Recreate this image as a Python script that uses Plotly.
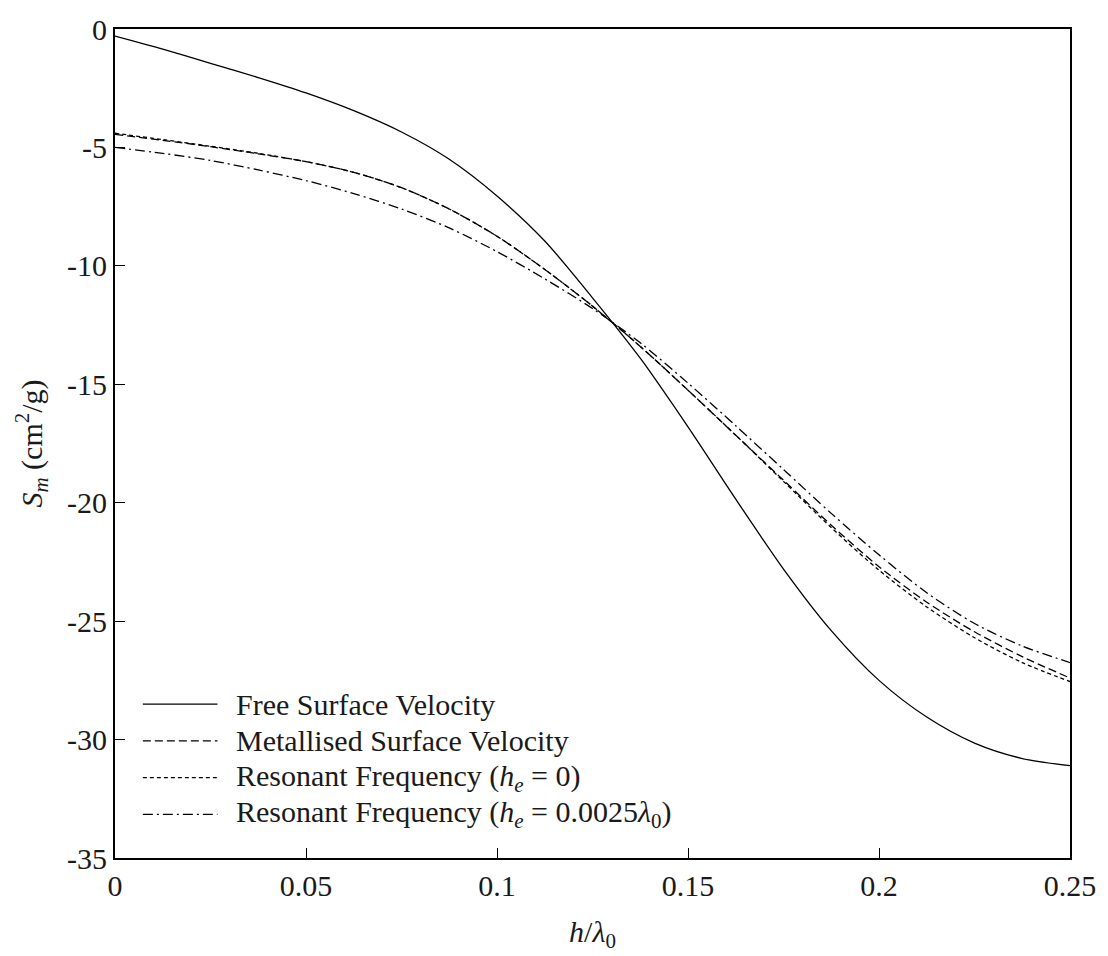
import plotly.graph_objects as go

# Normalised film thickness h/lambda0
h_ratio = [0, 0.0125, 0.025, 0.0375, 0.05, 0.0625, 0.075, 0.0875, 0.1, 0.1125,
           0.125, 0.1375, 0.15, 0.1625, 0.175, 0.1875, 0.2, 0.2125, 0.225, 0.2375, 0.25]

# Mass sensitivity S_m (cm^2/g) for each method
free_surface = [-0.3, -0.85, -1.45, -2.05, -2.7, -3.45, -4.35, -5.5, -7.05, -8.95,
                -11.35, -13.9, -16.8, -19.85, -22.8, -25.4, -27.5, -29.05, -30.15, -30.8, -31.1]
metallised = [-4.45, -4.7, -4.97, -5.27, -5.6, -6.05, -6.7, -7.6, -8.75, -10.15,
              -11.7, -13.4, -15.25, -17.15, -19.05, -20.95, -22.7, -24.2, -25.45, -26.5, -27.4]
resonant_he0 = [-4.4, -4.67, -4.95, -5.25, -5.6, -6.05, -6.7, -7.6, -8.75, -10.15,
                -11.7, -13.4, -15.25, -17.15, -19.1, -21.05, -22.85, -24.4, -25.7, -26.75, -27.55]
resonant_he = [-5.0, -5.25, -5.55, -5.95, -6.4, -6.95, -7.6, -8.4, -9.4, -10.55,
               -11.8, -13.25, -14.95, -16.75, -18.6, -20.45, -22.2, -23.8, -25.1, -26.05, -26.75]

series_names = ["Free Surface Velocity",
                "Metallised Surface Velocity",
                "Resonant Frequency (<i>h</i><sub><i>e</i></sub> = 0)",
                "Resonant Frequency (<i>h</i><sub><i>e</i></sub> = 0.0025<i>λ</i><sub>0</sub>)"]

x_tickvals = [0, 0.05, 0.1, 0.15, 0.2, 0.25]
x_ticktext = ["0", "0.05", "0.1", "0.15", "0.2", "0.25"]
y_tickvals = [0, -5, -10, -15, -20, -25, -30, -35]
y_ticktext = ["0", "-5", "-10", "-15", "-20", "-25", "-30", "-35"]

FONT = "Liberation Serif"
INK = "#1a1a1a"
dashes = ["solid", "8px,4px", "4px,3px", "10px,4px,2px,4px"]
series = [free_surface, metallised, resonant_he0, resonant_he]

fig = go.Figure()
for name, ys, dash in zip(series_names, series, dashes):
    fig.add_trace(go.Scatter(x=h_ratio, y=ys, mode="lines", name=name,
                             line=dict(color="black", width=1.3, dash=dash, shape="spline",
                                       smoothing=0.8),
                             showlegend=False))

# Hand-placed key in the lower-left corner
L, R, T, B = 115, 1075, 23, 858
W, H = R - L, B - T
row_px = [703, 740, 777, 814]
for name, dash, py in zip(series_names, dashes, row_px):
    yp = (B - py) / H
    fig.add_shape(type="line", xref="paper", yref="paper",
                  x0=(143 - L) / W, x1=(218 - L) / W, y0=yp, y1=yp,
                  line=dict(color="black", width=1.3, dash=dash))
    fig.add_annotation(xref="paper", yref="paper", x=(235 - L) / W, y=yp,
                       xanchor="left", yanchor="middle", text=name, showarrow=False,
                       font=dict(family=FONT, size=30, color=INK))

axis_common = dict(showgrid=False, zeroline=False, showline=True, linecolor="black",
                   linewidth=2, mirror=True, ticks="inside", ticklen=10, tickwidth=1,
                   tickcolor="black", tickfont=dict(family=FONT, size=30, color=INK))

fig.update_xaxes(range=[0, 0.25], tickvals=x_tickvals, ticktext=x_ticktext,
                 title=dict(text="<i>h</i>/<i>λ</i><sub>0</sub>", standoff=20,
                            font=dict(family=FONT, size=30, color=INK)),
                 **axis_common)
fig.update_yaxes(range=[-35, 0], tickvals=y_tickvals, ticktext=y_ticktext,
                 title=dict(text="<i>S</i><sub><i>m</i></sub> (cm<sup>2</sup>/g)", standoff=16,
                            font=dict(family=FONT, size=30, color=INK)),
                 **axis_common)

fig.update_layout(width=1108, height=956, plot_bgcolor="white", paper_bgcolor="white",
                  margin=dict(l=L, r=1108 - R, t=T, b=956 - B),
                  font=dict(family=FONT, color=INK))

fig.write_html("out.html")
